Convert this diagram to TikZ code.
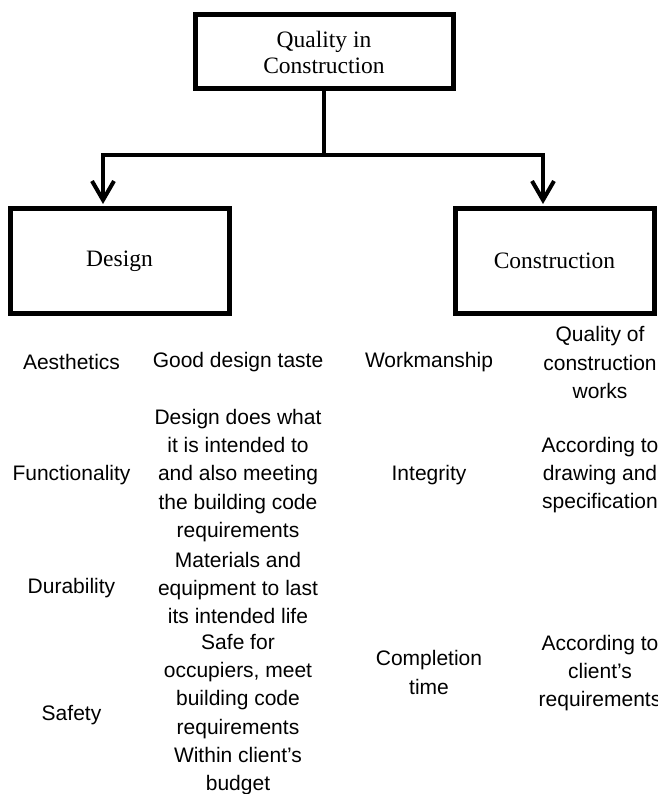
\documentclass[tikz,border=0pt]{standalone}
\usepackage{fontspec}
\setmainfont{Liberation Serif}
\setsansfont{Liberation Sans}
\usetikzlibrary{arrows.meta}

\begin{document}
\begin{tikzpicture}[x=1pt, y=-1pt,
	box/.style={draw, line width=5pt, inner sep=0pt, align=center, font=\fontsize{23.5}{26}\selectfont},
	item/.style={inner sep=0pt, align=center, font=\sffamily\fontsize{21}{28.2}\selectfont},
	link/.style={line width=4pt},
	down/.style={link, -{Straight Barb[length=19pt, width=22pt]}, shorten >=2.5pt}]
		\clip (0,0) rectangle (657,794);
		% boxes
		\node[box, minimum width=258pt, minimum height=74pt] (quality) at (324,52) {Quality in\\Construction};
		\node[box, minimum width=219pt, minimum height=104pt] (design) at (119.5,261) {Design};
		\node[box, minimum width=199pt, minimum height=104pt] (construction) at (554.5,261) {Construction};
		% branching arrows
		\coordinate (fork) at (quality.south |- 0,155);
		\draw[link] (quality.south) -- (fork);
		\draw[down] (fork) -| ([xshift=-16.5pt]design.north);
		\draw[down] (fork) -| ([xshift=-11.5pt]construction.north);
		% design aspects
		\node[item] (aesthetics) at (71.5,362) {Aesthetics};
		\node[item] (functionality) at (71.5,475) {Functionality};
		\node[item] (durability) at (71.5,588) {Durability};
		\node[item] (safety) at (71.5,715) {Safety};
		\node[item] (taste) at (238,362) {Good design taste};
		\node[item] (purpose) at (238,475.5) {Design does what\\it is intended to\\and also meeting\\the building code\\requirements};
		\node[item] (life) at (238,588) {Materials and\\equipment to last\\its intended life};
		\node[item] (occupiers) at (238,714.5) {Safe for\\occupiers, meet\\building code\\requirements\\Within client’s\\budget};
		% construction aspects
		\node[item] (workmanship) at (429,362) {Workmanship};
		\node[item] (integrity) at (429,475) {Integrity};
		\node[item] (completion) at (429,672.5) {Completion\\time};
		\node[item] (works) at (600,362.5) {Quality of\\construction\\works};
		\node[item] (drawing) at (600,475) {According to\\drawing and\\specification};
		\node[item] (client) at (600,673) {According to\\client’s\\requirements};
	\end{tikzpicture}
\end{document}
